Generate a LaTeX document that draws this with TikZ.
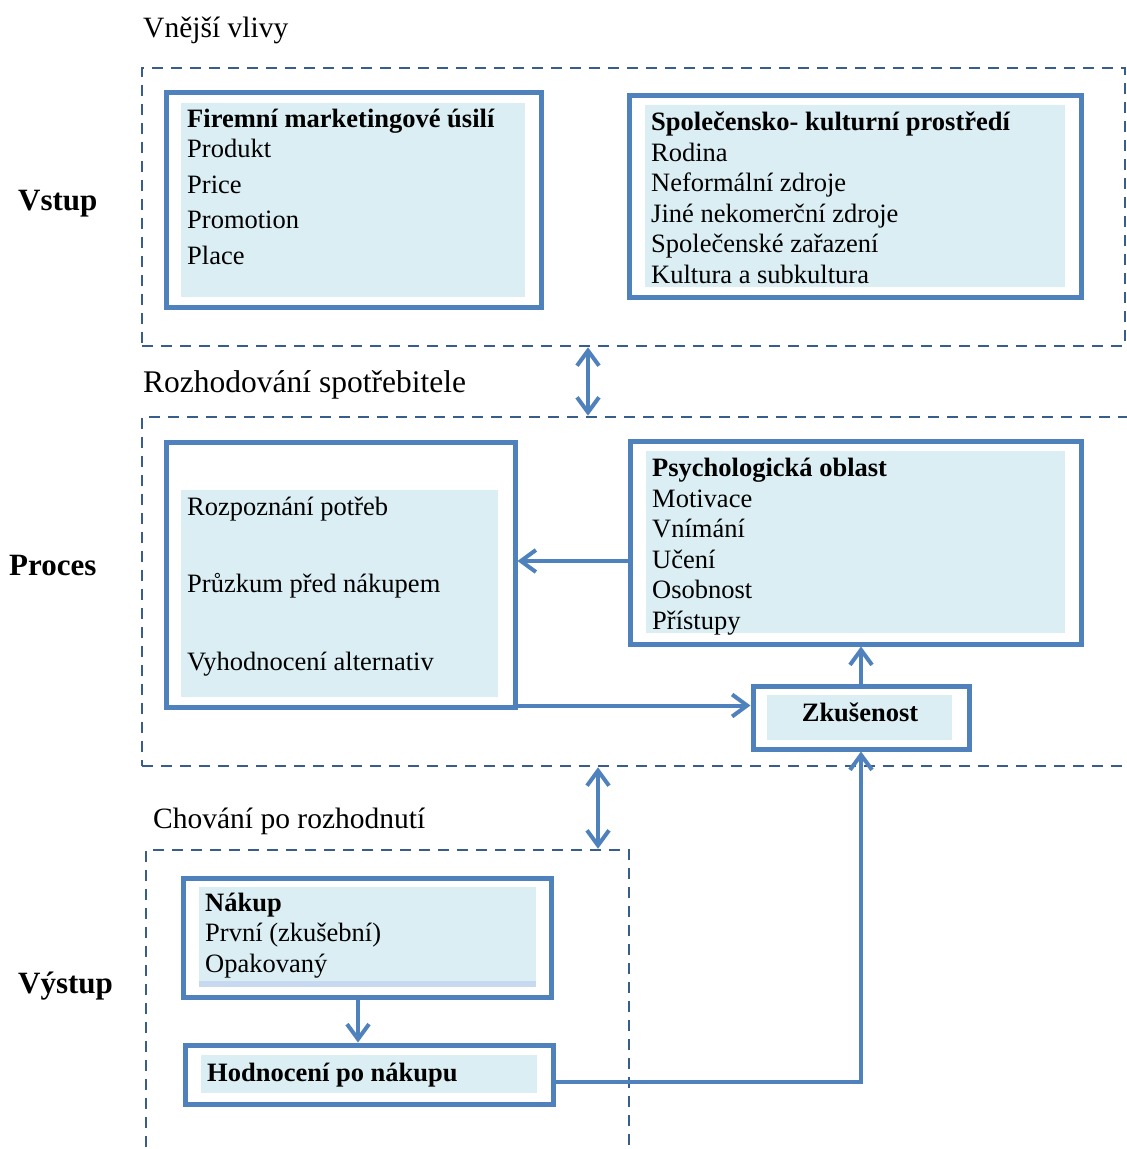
\documentclass[tikz,border=0pt]{standalone}
\usepackage{fontspec}
\setmainfont{Liberation Serif}
\usetikzlibrary{arrows.meta,positioning}
\definecolor{boxblue}{HTML}{4F81BD}
\definecolor{dashblue}{HTML}{385D8A}
\definecolor{boxfill}{HTML}{DAEEF3}
\definecolor{stripfill}{HTML}{C6D9F1}
\tikzset{
  region/.style={rectangle,draw=dashblue,line width=2.6pt,dash pattern=on 11pt off 8pt,inner sep=0},
  outerbox/.style={rectangle,draw=boxblue,line width=5pt,inner sep=0},
  flow/.style={draw=boxblue,line width=4pt,-{Straight Barb[length=15pt,width=22pt]}},
  twoway/.style={draw=boxblue,line width=4pt,{Straight Barb[length=15pt,width=22pt]}-{Straight Barb[length=15pt,width=22pt]}},
  boxtxt/.style={anchor=base west,inner sep=0,align=left,font=\fontsize{26.5}{30.5}\selectfont},
  headtxt/.style={anchor=base west,inner sep=0,font=\fontsize{29.5}{34}\selectfont},
  sidetxt/.style={anchor=base west,inner sep=0,font=\fontsize{31}{36}\selectfont\bfseries}
}
\begin{document}
\begin{tikzpicture}[x=1pt,y=-1pt]
\useasboundingbox (0,0) rectangle (1127,1149);
\clip (0,0) rectangle (1127,1149);
% dashed regions
\node[region,minimum width=983pt,minimum height=278pt] (vlivy) at (633.5,207) {};
\node[region,minimum width=1003pt,minimum height=349pt] (rozhod) at (643.5,591.5) {};
\node[region,minimum width=483pt,minimum height=325pt] (chov) at (387.5,1012.5) {};
% region labels
\node[headtxt] (vnejsi) at (143,37) {Vnější vlivy};
\node[sidetxt] (vstup) at (18,210) {Vstup};
\node[headtxt,font=\fontsize{31.5}{36}\selectfont] (rozhodtxt) at (143,392) {Rozhodování spotřebitele};
\node[sidetxt] (proces) at (9,575) {Proces};
\node[headtxt] (chovtxt) at (153,828) {Chování po rozhodnutí};
\node[sidetxt] (vystup) at (18,993) {Výstup};
% shaded text areas
\fill[boxfill] (181,103) rectangle (525,297);
\fill[boxfill] (645,105) rectangle (1065,287);
\fill[boxfill] (181,490) rectangle (498,697);
\fill[boxfill] (646,451) rectangle (1065,633);
\fill[boxfill] (767,695) rectangle (952,740);
\fill[boxfill] (199,887) rectangle (536,981);
\fill[stripfill] (199,981) rectangle (536,987);
\fill[boxfill] (201,1055) rectangle (537,1093);
% boxes
\node[outerbox,minimum width=375pt,minimum height=215pt] (firm) at (353.5,199.5) {};
\node[outerbox,minimum width=452pt,minimum height=202pt] (spol) at (855,196) {};
\node[outerbox,minimum width=349pt,minimum height=265pt] (proc) at (340.5,574.5) {};
\node[outerbox,minimum width=451pt,minimum height=203pt] (psych) at (855.5,542.5) {};
\node[outerbox,minimum width=216pt,minimum height=63pt] (zk) at (861,717.5) {};
\node[outerbox,minimum width=368pt,minimum height=119pt] (nakup) at (367,937.5) {};
\node[outerbox,minimum width=368pt,minimum height=59pt] (hodn) at (369,1074.5) {};
% box texts (base = last line)
\node[boxtxt] (firmtxt) at (187,264) {\textbf{Firemní marketingové úsilí}\\ Produkt\\[5pt] Price\\[5pt] Promotion\\[5pt] Place};
\node[boxtxt] (spoltxt) at (651,283) {\textbf{Společensko- kulturní prostředí}\\ Rodina\\ Neformální zdroje\\ Jiné nekomerční zdroje\\ Společenské zařazení\\ Kultura a subkultura};
\node[boxtxt] (proctxt) at (187,670) {Rozpoznání potřeb\\[47pt] Průzkum před nákupem\\[47pt] Vyhodnocení alternativ};
\node[boxtxt] (psychtxt) at (652,629) {\textbf{Psychologická oblast}\\ Motivace\\ Vnímání\\ Učení\\ Osobnost\\ Přístupy};
\node[boxtxt,anchor=base] (zktxt) at (860,721) {\textbf{Zkušenost}};
\node[boxtxt] (nakuptxt) at (205,972) {\textbf{Nákup}\\ První (zkušební)\\ Opakovaný};
\node[boxtxt] (hodntxt) at (207,1081) {\textbf{Hodnocení po nákupu}};
% connectors
\coordinate (p1) at ([yshift=-18.5pt]psych.west);
\draw[flow] (p1) -- (p1 -| proc.east);
\coordinate (p2) at ([yshift=4pt]proc.south east);
\draw[flow] (p2) -- (p2 -| zk.west);
\draw[flow] (zk.north) -- (zk.north |- psych.south);
\coordinate (h1) at ([yshift=-7.5pt]hodn.east);
\draw[flow] (h1) -| (zk.south);
\coordinate (n1) at ([xshift=-9pt]nakup.south);
\draw[flow] (n1) -- (n1 |- hodn.north);
\coordinate (d1) at ([xshift=-45.5pt]vlivy.south);
\draw[twoway] (d1) -- (d1 |- rozhod.north);
\coordinate (d2) at ([xshift=-45.5pt]rozhod.south);
\draw[twoway] (d2) -- (d2 |- chov.north);
\end{tikzpicture}
\end{document}
